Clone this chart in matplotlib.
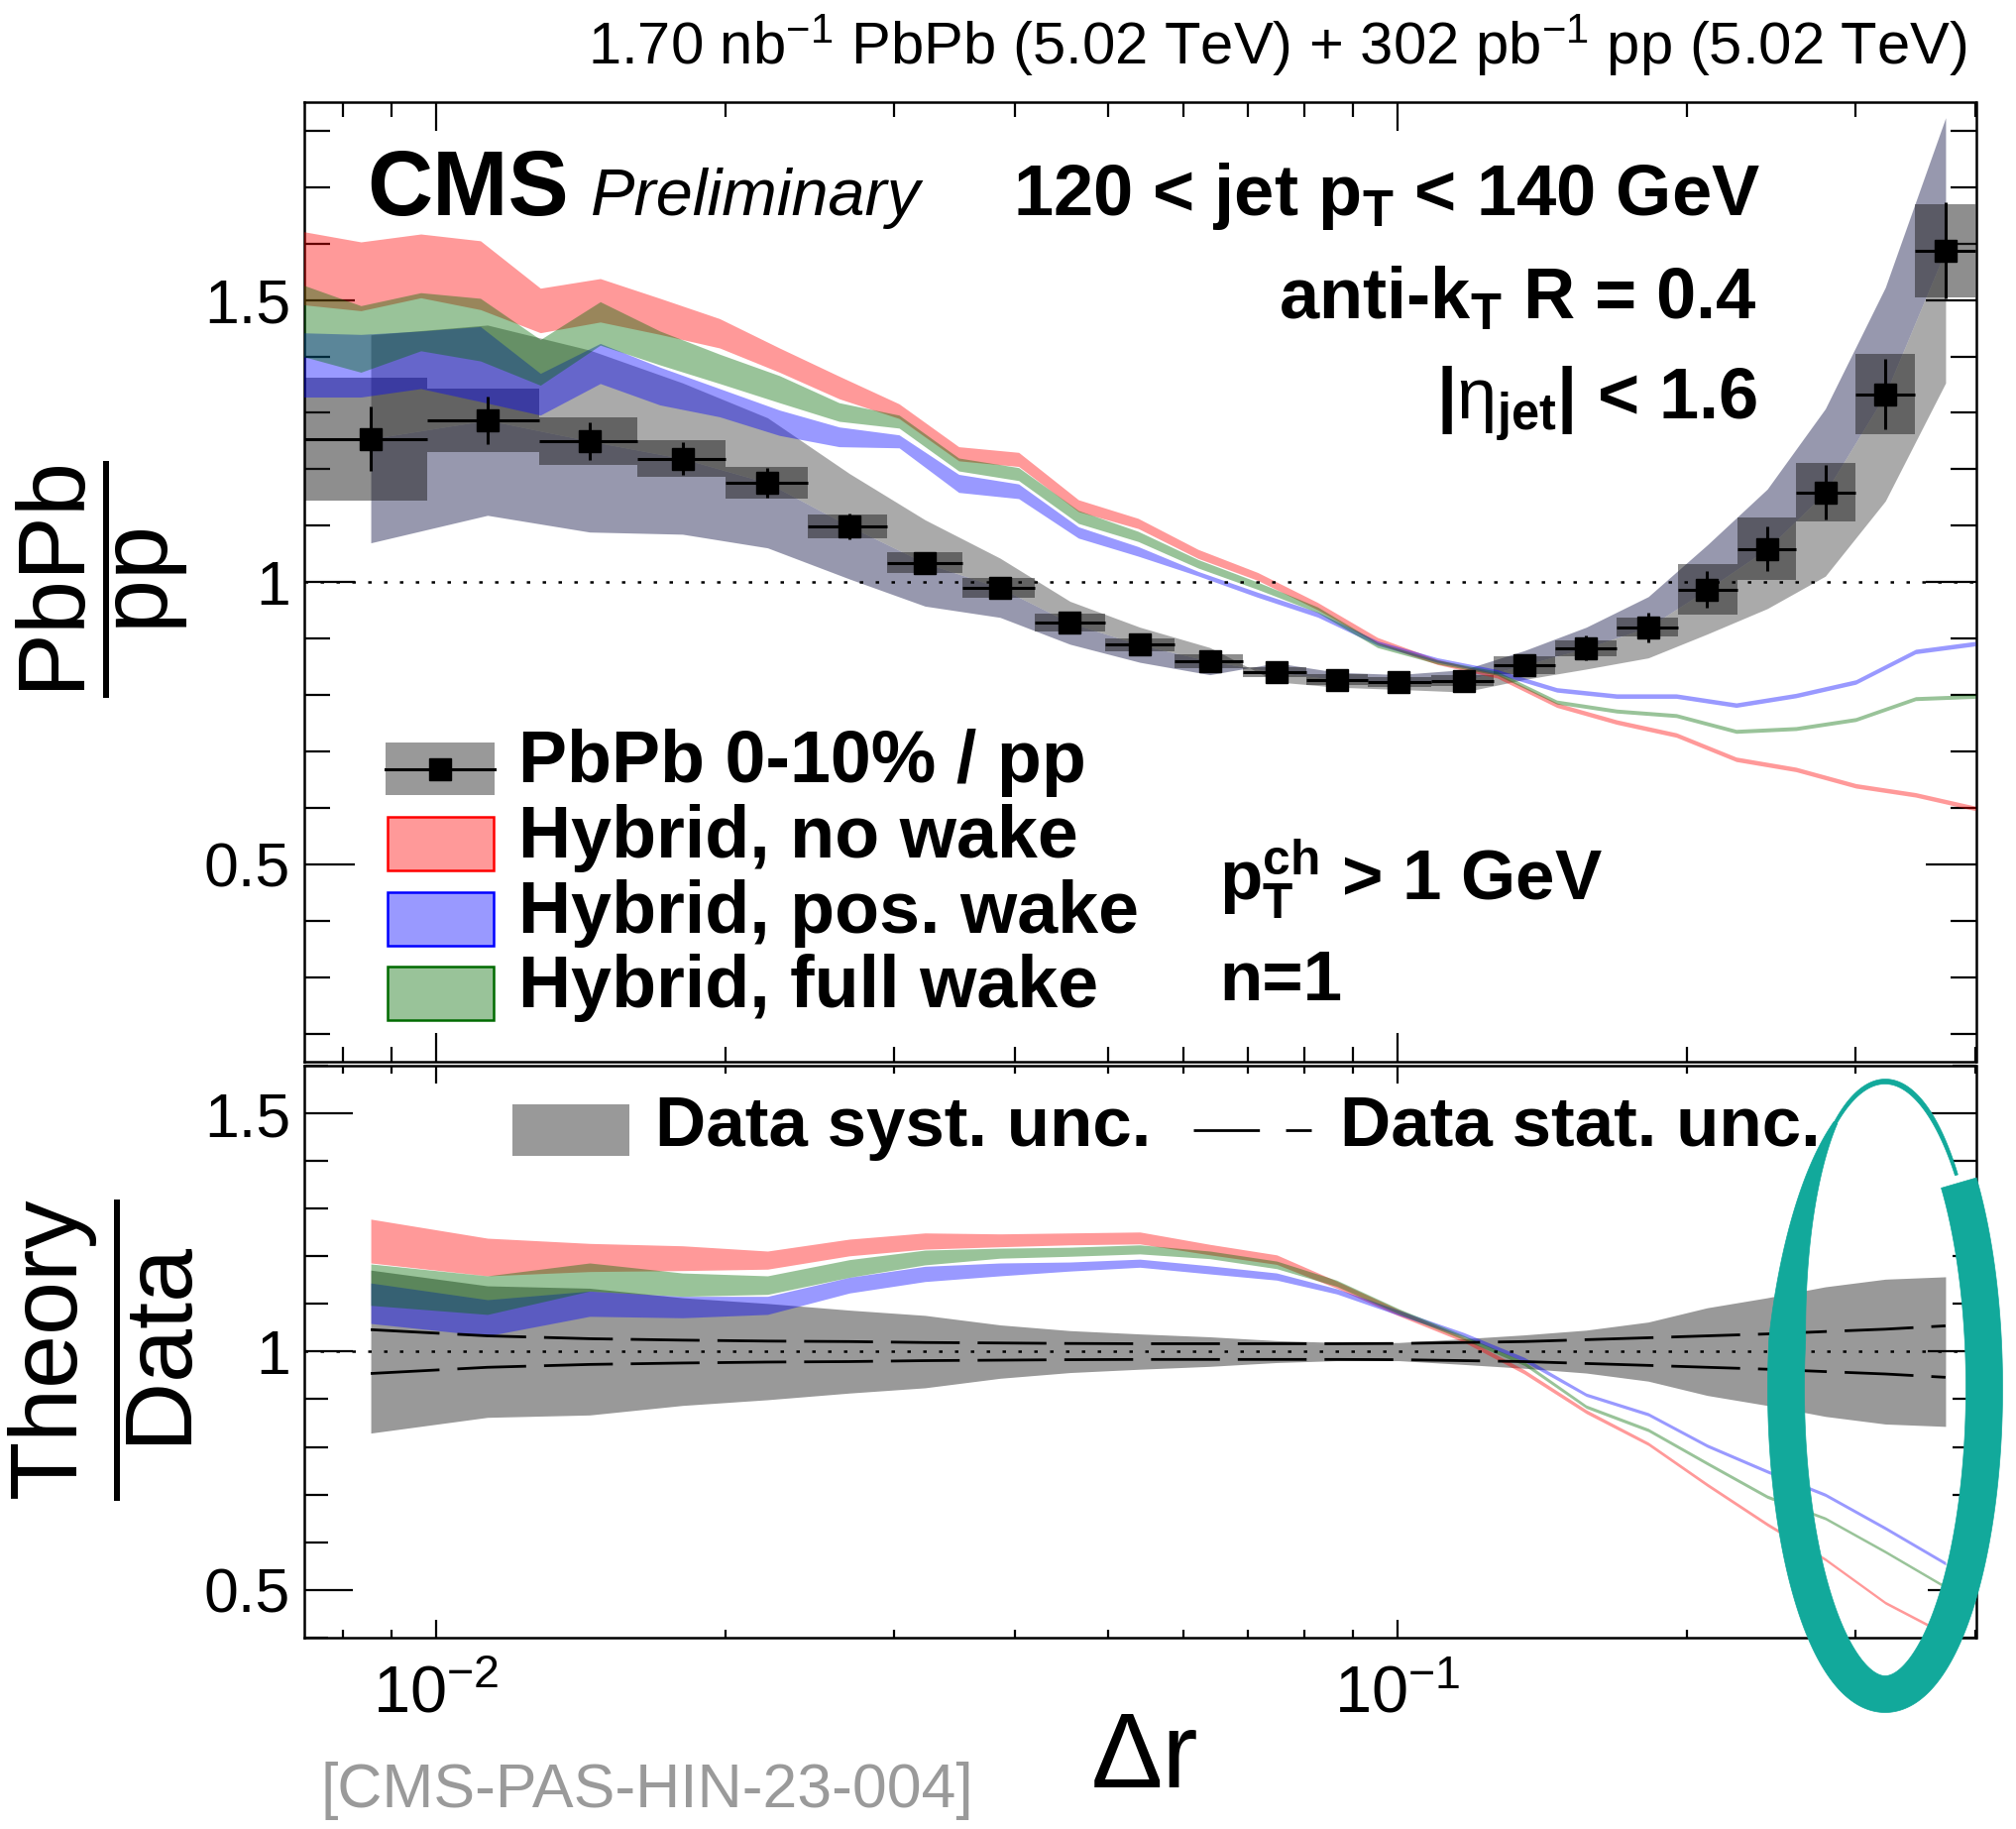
import numpy as np
import matplotlib.pyplot as plt
from matplotlib.patches import Rectangle, Polygon
from matplotlib.lines import Line2D
from matplotlib.ticker import LogLocator, MultipleLocator, FuncFormatter, NullFormatter

plt.rcParams['font.family'] = ['Liberation Sans', 'DejaVu Sans']
plt.rcParams['mathtext.fontset'] = 'custom'
plt.rcParams['mathtext.rm'] = 'Liberation Sans'
plt.rcParams['mathtext.it'] = 'Liberation Sans:italic'
plt.rcParams['mathtext.bf'] = 'Liberation Sans:bold'

# ---- data: PbPb 0-10% / pp ----
bin_edges = [0.0073, 0.0098, 0.0128, 0.0162, 0.0200, 0.0244, 0.0295, 0.0353, 0.0420, 0.0497, 0.0587, 0.0692,
             0.0805, 0.0932, 0.1085, 0.126, 0.146, 0.169, 0.196, 0.226, 0.260, 0.300, 0.346, 0.400]
dr = [0.00856, 0.01132, 0.01446, 0.01806, 0.02214, 0.02694, 0.03228, 0.03864, 0.04568, 0.05401, 0.06387, 0.07495,
      0.08653, 0.1004, 0.1173, 0.1356, 0.1573, 0.1825, 0.2102, 0.2427, 0.2789, 0.3220, 0.3720]
ratio = [1.254, 1.287, 1.250, 1.219, 1.176, 1.099, 1.034, 0.990, 0.928, 0.889, 0.860, 0.840,
         0.827, 0.823, 0.825, 0.853, 0.883, 0.920, 0.987, 1.059, 1.159, 1.333, 1.588]
stat_rel = [0.046, 0.033, 0.027, 0.024, 0.022, 0.021, 0.019, 0.018, 0.017, 0.0165, 0.0165, 0.0165,
            0.0165, 0.017, 0.019, 0.021, 0.025, 0.029, 0.033, 0.037, 0.042, 0.047, 0.054]
box_rel = [0.087, 0.044, 0.034, 0.027, 0.024, 0.019, 0.018, 0.018, 0.017, 0.013, 0.014, 0.010,
           0.011, 0.010, 0.012, 0.018, 0.016, 0.018, 0.046, 0.052, 0.045, 0.053, 0.052]
# correlated (shape) systematic, signed
corr_rel = [-0.147, -0.131, -0.129, -0.110, -0.098, -0.085, -0.074, -0.053, -0.041, -0.035, -0.028, 0.020,
            0.016, 0.016, 0.024, 0.030, 0.042, 0.059, 0.080, 0.100, 0.128, 0.142, 0.148]
syst_tot = [0.171, 0.138, 0.133, 0.113, 0.101, 0.087, 0.076, 0.056, 0.044, 0.037, 0.031, 0.023,
            0.019, 0.019, 0.027, 0.035, 0.045, 0.062, 0.092, 0.113, 0.136, 0.152, 0.157]

# ---- Hybrid model, top panel ----
theory_x = [0.00724, 0.00836, 0.00965, 0.01113, 0.01285, 0.01483, 0.01711, 0.01974, 0.02278, 0.02628,
            0.03034, 0.0350, 0.0404, 0.04662, 0.05379, 0.06209, 0.07164, 0.08267, 0.09541, 0.1101,
            0.1271, 0.1466, 0.1692, 0.1952, 0.2253, 0.2600, 0.3000, 0.3462, 0.3995]
nowake_hi = [1.622, 1.603, 1.617, 1.605, 1.521, 1.538, 1.503, 1.467, 1.415, 1.365, 1.316, 1.240, 1.230, 1.146,
             1.113, 1.058, 1.017, 0.964, 0.902, 0.863, 0.838, 0.786, 0.756, 0.733, 0.690, 0.672, 0.643, 0.627, 0.603]
nowake_lo = [1.492, 1.481, 1.504, 1.483, 1.442, 1.461, 1.439, 1.415, 1.372, 1.325, 1.290, 1.215, 1.205, 1.125,
             1.095, 1.042, 1.003, 0.951, 0.891, 0.854, 0.830, 0.778, 0.748, 0.725, 0.682, 0.664, 0.635, 0.619, 0.595]
pos_hi = [1.442, 1.439, 1.445, 1.453, 1.370, 1.423, 1.381, 1.343, 1.305, 1.275, 1.261, 1.191, 1.174, 1.098,
          1.063, 1.019, 0.982, 0.947, 0.896, 0.866, 0.845, 0.813, 0.802, 0.802, 0.786, 0.803, 0.827, 0.881, 0.895]
pos_lo = [1.328, 1.328, 1.343, 1.320, 1.296, 1.352, 1.314, 1.293, 1.260, 1.240, 1.238, 1.159, 1.148, 1.078,
          1.046, 1.011, 0.973, 0.938, 0.888, 0.858, 0.837, 0.805, 0.794, 0.794, 0.778, 0.795, 0.819, 0.873, 0.887]
full_hi = [1.528, 1.490, 1.513, 1.503, 1.430, 1.497, 1.445, 1.404, 1.366, 1.318, 1.296, 1.220, 1.203, 1.127,
           1.090, 1.040, 1.000, 0.956, 0.893, 0.862, 0.842, 0.791, 0.775, 0.767, 0.739, 0.744, 0.760, 0.797, 0.801]
full_lo = [1.401, 1.372, 1.410, 1.392, 1.349, 1.420, 1.385, 1.352, 1.318, 1.285, 1.273, 1.197, 1.180, 1.104,
           1.072, 1.025, 0.987, 0.946, 0.884, 0.855, 0.835, 0.784, 0.768, 0.760, 0.732, 0.737, 0.753, 0.790, 0.794]

# ---- Theory / Data, bottom panel (at data points) ----
nowake_r_hi = [1.278, 1.238, 1.227, 1.222, 1.211, 1.236, 1.249, 1.247, 1.249, 1.251, 1.225, 1.203,
               1.148, 1.088, 1.030, 0.962, 0.878, 0.810, 0.724, 0.641, 0.567, 0.476, 0.410]
nowake_r_lo = [1.186, 1.159, 1.168, 1.170, 1.173, 1.201, 1.215, 1.220, 1.224, 1.226, 1.203, 1.183,
               1.133, 1.075, 1.020, 0.953, 0.870, 0.803, 0.717, 0.634, 0.561, 0.470, 0.404]
pos_r_hi = [1.144, 1.109, 1.127, 1.116, 1.116, 1.156, 1.179, 1.186, 1.188, 1.194, 1.180, 1.165,
            1.132, 1.087, 1.040, 0.988, 0.913, 0.872, 0.806, 0.752, 0.703, 0.633, 0.559]
pos_r_lo = [1.059, 1.033, 1.074, 1.071, 1.078, 1.123, 1.147, 1.159, 1.169, 1.177, 1.163, 1.150,
            1.121, 1.076, 1.031, 0.979, 0.906, 0.865, 0.799, 0.745, 0.696, 0.626, 0.552]
full_r_hi = [1.184, 1.159, 1.186, 1.165, 1.159, 1.193, 1.213, 1.217, 1.219, 1.224, 1.211, 1.190,
             1.150, 1.090, 1.034, 0.979, 0.888, 0.839, 0.769, 0.699, 0.653, 0.583, 0.509]
full_r_lo = [1.097, 1.078, 1.127, 1.116, 1.120, 1.156, 1.182, 1.196, 1.200, 1.205, 1.195, 1.174,
             1.137, 1.079, 1.025, 0.971, 0.881, 0.832, 0.762, 0.692, 0.647, 0.577, 0.503]

red_c, blue_c, green_c = '#ff0000', '#0000ff', '#006b00'

W, H = 2034, 1845
fig = plt.figure(figsize=(W / 100, H / 100), dpi=100)


def fx(px):
    return px / W


def fy(py):
    return 1 - py / H


ax1 = fig.add_axes([fx(307), fy(1071), (1993.5 - 307) / W, (1071 - 103.4) / H])
ax2 = fig.add_axes([fx(307), fy(1651.8), (1993.5 - 307) / W, (1651.8 - 1075) / H])

x = np.array(dr)
r = np.array(ratio)
edges = np.array(bin_edges)

# ---------------- top panel ----------------
ax1.fill_between(x, r, r * (1 + np.array(corr_rel)), color='#31335f', alpha=0.5, lw=0, zorder=1)
ax1.fill_between(x, r, r * (1 - np.array(corr_rel)), color='#575757', alpha=0.5, lw=0, zorder=1)
ax1.bar(edges[:-1], 2 * r * np.array(box_rel), width=np.diff(edges), bottom=r * (1 - np.array(box_rel)),
        align='edge', color='#1e1e1e', alpha=0.5, lw=0, zorder=2)
ax1.fill_between(theory_x, nowake_lo, nowake_hi, color=red_c, alpha=0.4, lw=0, zorder=3)
ax1.fill_between(theory_x, pos_lo, pos_hi, color=blue_c, alpha=0.4, lw=0, zorder=3)
ax1.fill_between(theory_x, full_lo, full_hi, color=green_c, alpha=0.4, lw=0, zorder=3)
ax1.errorbar(x, r, xerr=[x - edges[:-1], edges[1:] - x], yerr=r * np.array(stat_rel), fmt='s',
             color='black', ms=16, elinewidth=2.2, capsize=0, zorder=5)
ax1.axhline(1, color='black', lw=1.8, ls=(0, (1.4, 5.0)), zorder=6)

# ---------------- bottom panel ----------------
st = np.array(stat_rel)
ax2.fill_between(x, 1 - np.array(syst_tot), 1 + np.array(syst_tot), color='#999999', lw=0, zorder=1)
ax2.fill_between(x, nowake_r_lo, nowake_r_hi, color=red_c, alpha=0.4, lw=0, zorder=3)
ax2.fill_between(x, pos_r_lo, pos_r_hi, color=blue_c, alpha=0.4, lw=0, zorder=3)
ax2.fill_between(x, full_r_lo, full_r_hi, color=green_c, alpha=0.4, lw=0, zorder=3)
ax2.plot(x, 1 + st, color='black', lw=2, dashes=(25, 6.5), zorder=4)
ax2.plot(x, 1 - st, color='black', lw=2, dashes=(25, 6.5), zorder=4)
ax2.axhline(1, color='black', lw=1.8, ls=(0, (1.4, 5.0)), zorder=6)

# ---------------- axes styling ----------------
for ax, ylim, ymaj, ymin, xmaj, xmin in [(ax1, (0.15, 1.85), 37, 19, 21, 10.5),
                                         (ax2, (0.4, 1.6), 35, 17, 13, 6)]:
    ax.set_xscale('log')
    ax.set_xlim(0.0073, 0.4)
    ax.set_ylim(*ylim)
    ax.xaxis.set_major_locator(LogLocator(base=10))
    ax.xaxis.set_minor_locator(LogLocator(base=10, subs=np.arange(2, 10)))
    ax.xaxis.set_minor_formatter(NullFormatter())
    ax.yaxis.set_major_locator(MultipleLocator(0.5))
    ax.yaxis.set_minor_locator(MultipleLocator(0.1))
    ax.yaxis.set_major_formatter(FuncFormatter(lambda v, p: f"{v:g}"))
    ax.tick_params(which='both', direction='in', top=True, right=True, width=1.6, labelsize=45)
    ax.tick_params(axis='y', which='major', length=ymaj, pad=10)
    ax.tick_params(axis='y', which='minor', length=ymin)
    ax.tick_params(axis='x', which='major', length=xmaj)
    ax.tick_params(axis='x', which='minor', length=xmin)
    for s in ax.spines.values():
        s.set_linewidth(1.8)

ax1.tick_params(axis='x', labelbottom=False)
ax2.tick_params(axis='x', which='major', labelsize=48, pad=20)

# ---------------- texts ----------------
fig.text(fx(1985), fy(65), r'1.70 nb$^{-1}$ PbPb (5.02 TeV) + 302 pb$^{-1}$ pp (5.02 TeV)',
         ha='right', va='baseline', fontsize=43)
fig.text(fx(370), fy(217), 'CMS', ha='left', va='baseline', fontsize=66, fontweight='bold')
fig.text(fx(596), fy(217), 'Preliminary', ha='left', va='baseline', fontsize=48, fontstyle='italic')
fig.text(fx(1776), fy(217), r'120 < jet p$_{\mathbf{T}}$ < 140 GeV', ha='right', va='baseline',
         fontsize=52, fontweight='bold')
fig.text(fx(1773), fy(322), r'anti-k$_{\mathbf{T}}$ R = 0.4', ha='right', va='baseline',
         fontsize=52, fontweight='bold')
fig.text(fx(1773), fy(423), r'|$\mathrm{\eta}_{\mathbf{jet}}$| < 1.6', ha='right', va='baseline',
         fontsize=52, fontweight='bold')
fig.text(fx(1230), fy(908), r'p$_{\mathbf{T}}^{\mathbf{ch}}$ > 1 GeV', ha='left', va='baseline',
         fontsize=51, fontweight='bold')
fig.text(fx(1230), fy(1009), 'n=1', ha='left', va='baseline', fontsize=51, fontweight='bold')

# legend (top panel)
leg_labels = ['PbPb 0-10% / pp', 'Hybrid, no wake', 'Hybrid, pos. wake', 'Hybrid, full wake']
leg_y = [775.5, 851, 926.5, 1002]
fig.add_artist(Rectangle((fx(389), fy(802)), 110 / W, 53 / H, transform=fig.transFigure,
                         facecolor='#999999', edgecolor='none'))
fig.add_artist(Line2D([fx(389), fx(499)], [fy(775.5), fy(775.5)], transform=fig.transFigure,
                      color='black', lw=2.2))
fig.add_artist(Line2D([fx(444)], [fy(775.5)], transform=fig.transFigure, marker='s', ms=16,
                      color='black', ls='none'))
for c, yc in zip([red_c, blue_c, green_c], leg_y[1:]):
    fig.add_artist(Rectangle((fx(391), fy(yc + 27)), 107 / W, 54 / H, transform=fig.transFigure,
                             facecolor=c, alpha=0.4, edgecolor='none'))
    fig.add_artist(Rectangle((fx(391), fy(yc + 27)), 107 / W, 54 / H, transform=fig.transFigure,
                             facecolor='none', edgecolor=c, lw=1.8))
for lab, yc in zip(leg_labels, leg_y):
    fig.text(fx(523), fy(yc + 14), lab, ha='left', va='baseline', fontsize=53, fontweight='bold')

# legend (bottom panel)
fig.add_artist(Rectangle((fx(517), fy(1166)), 118 / W, 52 / H, transform=fig.transFigure,
                         facecolor='#999999', edgecolor='none'))
fig.text(fx(661), fy(1156), 'Data syst. unc.', ha='left', va='baseline', fontsize=51, fontweight='bold')
fig.add_artist(Line2D([fx(1204), fx(1323)], [fy(1140), fy(1140)], transform=fig.transFigure,
                      color='black', lw=2, dashes=(24, 9.5)))
fig.text(fx(1352), fy(1156), 'Data stat. unc.', ha='left', va='baseline', fontsize=51, fontweight='bold')

# y-axis titles as fractions
fig.text(fx(103), fy(584), r'$\dfrac{\mathrm{PbPb}}{\mathrm{pp}}$', rotation=90, ha='center', va='center',
         fontsize=70)
fig.text(fx(102), fy(1362), r'$\dfrac{\mathrm{Theory}}{\mathrm{Data}}$', rotation=90, ha='center',
         va='center', fontsize=70)

fig.text(fx(1155), fy(1803), '\u0394r', ha='center', va='baseline', fontsize=78)
fig.text(fx(324), fy(1823), '[CMS-PAS-HIN-23-004]', ha='left', va='baseline', fontsize=45,
         color='#9a9a9a')

# hand-drawn teal ellipse annotation
cx, cy, a, b = 1902, 1400, 100, 309


def stroke(t0, t1, wfun, n=300):
    t = np.radians(np.linspace(t0, t1, n))
    px = cx + a * np.cos(t)
    py = cy - b * np.sin(t)
    nx, ny = b * np.cos(t), -a * np.sin(t)
    nn = np.hypot(nx, ny)
    nx, ny = nx / nn, ny / nn
    s = np.linspace(0, 1, n)
    w = wfun(s) / 2
    outer = np.column_stack([fx(px + w * nx), fy(py + w * ny)])
    inner = np.column_stack([fx(px - w * nx), fy(py - w * ny)])
    fig.add_artist(Polygon(np.vstack([outer, inner[::-1]]), closed=True, transform=fig.transFigure,
                           facecolor='#12a99b', edgecolor='#12a99b', lw=0.5))


stroke(120, 402, lambda s: 4 + 33 * np.clip(s / 0.18, 0, 1))
stroke(44, 122, lambda s: 3 + 2 * np.sin(np.pi * s))

fig.savefig('out.png', dpi=100)
